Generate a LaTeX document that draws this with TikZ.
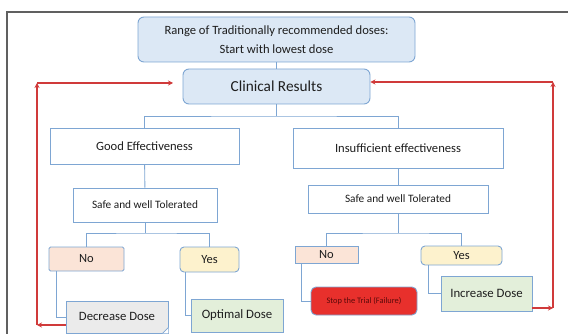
\documentclass[tikz,border=0pt]{standalone}
\usepackage{fontspec}
\setmainfont{Carlito}
\usetikzlibrary{arrows.meta}
\definecolor{bord}{HTML}{7EA6D3}
\definecolor{lblue}{HTML}{DCE8F5}
\definecolor{peach}{HTML}{FBE4D7}
\definecolor{cream}{HTML}{FDF2CD}
\definecolor{lgreen}{HTML}{E3EFDA}
\definecolor{lgray}{HTML}{EBEBEB}
\definecolor{stopred}{HTML}{E8302C}
\definecolor{darkred}{HTML}{5A0A0A}
\definecolor{arrred}{HTML}{D03A3A}
\definecolor{txt}{HTML}{1E1E1E}
\begin{document}
\begin{tikzpicture}[x=1pt,y=-1pt,
  box/.style={draw=bord, line width=0.9pt, inner sep=0pt, text=txt, align=center},
  conn/.style={draw=bord, line width=0.9pt},
  redarr/.style={draw=arrred, line width=1.2pt, -{Stealth[length=5pt,width=5pt]}}]
\useasboundingbox (0,0) rectangle (568,334);
% frame
\draw[gray!75!black, line width=1.5pt] (7,336) -- (7,12) -- (570,12);
% nodes
\node[box, fill=lblue, rounded corners=6pt, minimum width=277pt, minimum height=45pt, font=\fontsize{12.6}{19.5}\selectfont] (top) at (276.5,39.5) {Range of Traditionally recommended doses:\\Start with lowest dose};
\node[box, fill=lblue, rounded corners=6pt, minimum width=187pt, minimum height=35pt, font=\fontsize{15.3}{18}\selectfont] (clin) at (276.5,86.5) {Clinical Results};
\node[box, fill=white, minimum width=189pt, minimum height=36pt, font=\fontsize{12.6}{15}\selectfont] (good) at (144.5,146) {Good Effectiveness};
\node[box, fill=white, minimum width=210pt, minimum height=40pt, font=\fontsize{12.6}{15}\selectfont] (insuf) at (398,148) {Insufficient effectiveness};
\node[box, fill=white, minimum width=144pt, minimum height=34pt, font=\fontsize{11.3}{13}\selectfont] (safeL) at (145,205) {Safe and well Tolerated};
\node[box, fill=white, minimum width=180pt, minimum height=28pt, font=\fontsize{11.3}{13}\selectfont] (safeR) at (398,199) {Safe and well Tolerated};
\node[box, fill=peach, rounded corners=1.5pt, minimum width=75pt, minimum height=24pt, font=\fontsize{12.5}{14}\selectfont] (noL) at (86.5,259) {No};
\node[box, fill=cream, rounded corners=4pt, minimum width=59pt, minimum height=25pt, font=\fontsize{12.5}{14}\selectfont] (yesL) at (209.5,259.5) {Yes};
\node[box, fill=lgray, minimum width=102pt, minimum height=32pt, font=\fontsize{12.7}{14}\selectfont] (dec) at (117,317) {\raisebox{2pt}{Decrease Dose}};
\node[box, fill=lgreen, minimum width=92pt, minimum height=33pt, font=\fontsize{12.8}{14}\selectfont] (opt) at (237,315.5) {Optimal Dose};
\node[box, fill=peach, minimum width=63pt, minimum height=17pt, font=\fontsize{12.5}{14}\selectfont] (noR) at (326.5,254.5) {No};
\node[box, fill=cream, rounded corners=4pt, minimum width=81pt, minimum height=19pt, font=\fontsize{12.5}{14}\selectfont] (yesR) at (461.5,255.5) {Yes};
\node[box, fill=stopred, rounded corners=5pt, minimum width=106pt, minimum height=28pt, text=darkred, font=\fontsize{8.4}{10}\selectfont] (stop) at (364,301) {Stop the Trial (Failure)};
\node[box, fill=lgreen, minimum width=91pt, minimum height=35pt, font=\fontsize{12.8}{14}\selectfont] (inc) at (486.5,293.5) {Increase Dose};
% dog-ear on Decrease Dose
\fill[white] (dec.south east) -- ++(-6,0) -- ++(6,-6) -- cycle;
\draw[bord, line width=0.7pt] ([xshift=-6pt]dec.south east) -- ([yshift=6pt]dec.south east);
% junctions
\coordinate (j1) at (276.5,116);
\coordinate (j2) at (145,233);
\coordinate (j3) at (398,233);
% connectors
\draw[conn] (top) -- (clin);
\draw[conn] (clin) -- (j1);
\draw[conn] (good.north) |- (j1) -| (insuf.north);
\draw[conn] (good) -- (safeL);
\draw[conn] (insuf) -- (safeR);
\draw[conn] (safeL) -- (j2);
\draw[conn] (noL.north) |- (j2) -| (yesL.north);
\draw[conn] (safeR) -- (j3);
\draw[conn] (noR.north) |- (j3) -| (yesR.north);
\draw[conn] ([xshift=8pt]noL.south west) |- (dec.west);
\draw[conn] ([xshift=6pt]yesL.south west) |- (opt.west);
\draw[conn] ([xshift=7pt]noR.south west) |- (stop.west);
\draw[conn] ([xshift=8pt]yesR.south west) |- (inc.west);
% red feedback arrows
\coordinate (L1) at (37,325);
\coordinate (L2) at (37,83);
\coordinate (L3) at (173,83);
\draw[redarr] (dec.west |- L1) -- (L1);
\draw[redarr] (L1) -- (L2);
\draw[redarr] (L2) -- (L3);
\coordinate (R1) at (553,308);
\coordinate (R2) at (553,82);
\draw[redarr] (inc.east |- R1) -- (R1);
\draw[redarr] (R1) -- (R2);
\draw[redarr] (R2) -- (clin.east |- R2);
\end{tikzpicture}
\end{document}
